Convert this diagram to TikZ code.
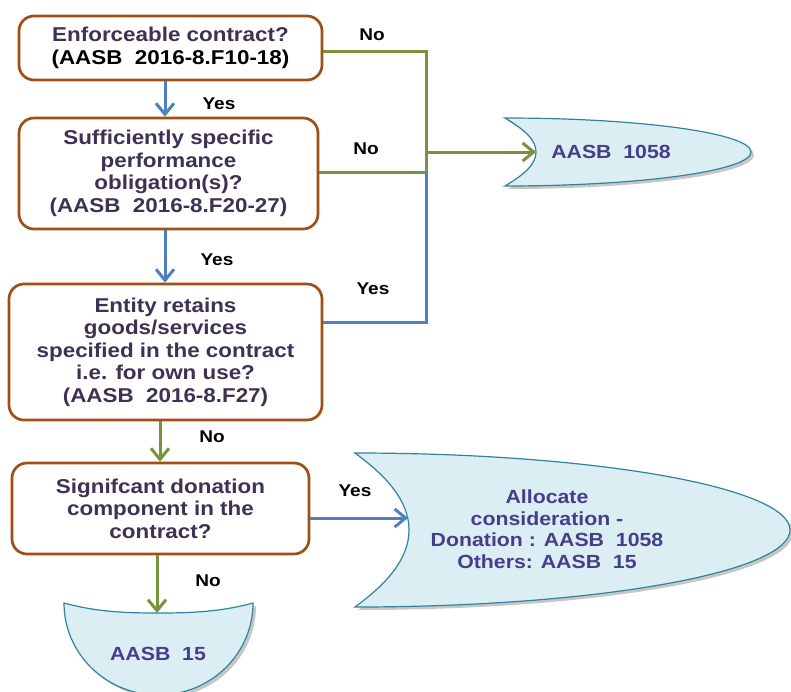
\documentclass[tikz,border=0pt]{standalone}
\usepackage{fontspec}
\setmainfont{Liberation Sans}[FakeStretch=1.12]
\usetikzlibrary{arrows.meta,calc}
\definecolor{boxborder}{HTML}{9C5018}
\definecolor{lgreen}{HTML}{77933C}
\definecolor{lblue}{HTML}{4F81BD}
\definecolor{shapefill}{HTML}{DAEEF3}
\definecolor{shapeedge}{HTML}{31849B}
\definecolor{boxtext}{HTML}{3F3151}
\definecolor{shapetext}{HTML}{483D8B}
\tikzset{
  qbox/.style={draw=boxborder, line width=2.7pt, rounded corners=15pt, fill=white,
    align=center, inner sep=0pt, text=boxtext,
    font=\fontsize{20}{22.5}\selectfont\bfseries},
  lbl/.style={font=\fontsize{17}{20}\selectfont\bfseries, text=black, inner sep=0pt},
  stxt/.style={font=\fontsize{19}{21.5}\selectfont\bfseries, text=shapetext, align=center, inner sep=0pt},
  gline/.style={draw=lgreen, line width=3pt},
  bline/.style={draw=lblue, line width=3pt},
  garr/.style={gline, -{Straight Barb[length=11pt,width=18pt]}},
  barr/.style={bline, -{Straight Barb[length=11pt,width=18pt]}},
  endshape/.style={fill=shapefill, draw=shapeedge, line width=1.2pt},
  shade/.style={fill=black, opacity=0.22}
}
\begin{document}
\begin{tikzpicture}[x=1pt,y=-1pt]
\useasboundingbox (0,0) rectangle (791,691);
\clip (0,0) rectangle (791,691);
% end shapes (shadow + shape)
\foreach \dx/\st in {3/shade,0/endshape}{
  \path[\st] ($(505,118)+(\dx,\dx)$) arc[start angle=-90,end angle=90,x radius=246,y radius=34]
    .. controls +(20,-12) and +(0,12) .. ($(536,152)+(\dx,\dx)$)
    .. controls +(0,-12) and +(20,12) .. ($(505,118)+(\dx,\dx)$) -- cycle;
  \path[\st] ($(355,453)+(\dx,\dx)$) arc[start angle=-90,end angle=90,x radius=435,y radius=77]
    .. controls +(30,-22) and +(0,30) .. ($(409,530)+(\dx,\dx)$)
    .. controls +(0,-30) and +(30,22) .. ($(355,453)+(\dx,\dx)$) -- cycle;
  \path[\st] ($(64,603)+(\dx,\dx)$) arc[start angle=180,end angle=0,x radius=94.5,y radius=92]
    .. controls +(-33,9) and +(32,0) .. ($(158,613)+(\dx,\dx)$)
    .. controls +(-32,0) and +(33,9) .. ($(64,603)+(\dx,\dx)$) -- cycle;
}
\coordinate (t1058) at (536,152);
\coordinate (tAlloc) at (408,518);
\coordinate (t15) at (157,613);
\node[stxt] (n1058) at (611,152) {AASB~~1058};
\node[stxt] (nAlloc) at (547,529) {Allocate\\consideration -\\Donation : AASB~~1058\\Others: AASB~~15};
\node[stxt] (n15) at (158,654) {AASB~~15};
% question boxes
\node[qbox, minimum width=303pt, minimum height=64pt] (b1) at (170.5,48)
  {Enforceable contract?\\\textcolor{black}{(AASB~~2016-8.F10-18)}};
\node[qbox, minimum width=299pt, minimum height=111pt] (b2) at (168.5,173.5)
  {Sufficiently specific\\performance\\obligation(s)?\\(AASB~~2016-8.F20-27)};
\node[qbox, minimum width=313pt, minimum height=136pt] (b3) at (165.5,352)
  {Entity retains\\goods/services\\specified in the contract\\i.e. for own use?\\(AASB~~2016-8.F27)};
\node[qbox, minimum width=297pt, minimum height=91pt] (b4) at (160.5,508.5)
  {Signifcant donation\\component in the\\contract?};
% junction column
\coordinate (j) at (426,0);
\coordinate (x1) at (165,0);
\coordinate (x3) at (160,0);
\coordinate (x4) at (157,0);
% connectors
\draw[barr] (b1.south -| x1) -- (b2.north -| x1);
\draw[barr] (b2.south -| x1) -- (b3.north -| x1);
\draw[garr] (b3.south -| x3) -- (b4.north -| x3);
\draw[garr] (b4.south -| x4) -- (t15);
\draw[barr] ($(b4.east)+(0,9.5)$) -- (tAlloc);
\draw[bline] ($(b3.east)+(0,-30)$) -| ($(b2.east -| j)+(0,-1.5)$);
\draw[gline] ($(b1.east)+(0,3)$) -| ($(b2.east -| j)+(0,-1.5)$);
\draw[gline] ($(b2.east)+(0,-1.5)$) -- ($(b2.east -| j)+(0,-1.5)$);
\draw[garr] (t1058 -| j) -- (t1058);
% labels
\node[lbl] at (372,35) {No};
\node[lbl] at (219,104) {Yes};
\node[lbl] at (366,149) {No};
\node[lbl] at (217,260) {Yes};
\node[lbl] at (373,289) {Yes};
\node[lbl] at (212,437) {No};
\node[lbl] at (355,491) {Yes};
\node[lbl] at (208,581) {No};
\end{tikzpicture}
\end{document}
